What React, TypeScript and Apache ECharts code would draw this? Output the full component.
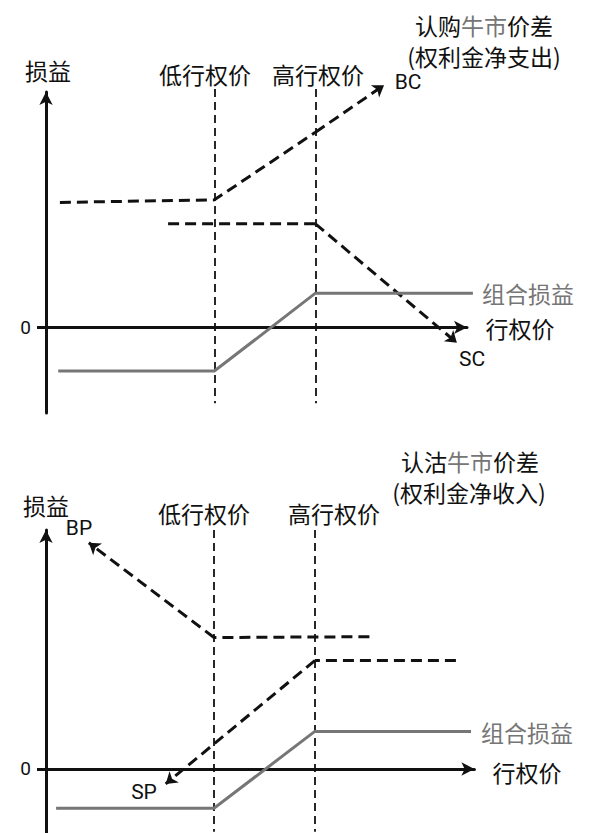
import React, { useEffect, useRef } from "react";
import * as echarts from "echarts";

// strikes (x units)
const strikes = [40, 64];

// --- Top panel: bull call spread ---
const topBC = [[3.3, 2.92], [40, 2.98], [64, 4.56], [80.3, 5.66]];
const topSC = [[29, 2.42], [64, 2.42], [97.6, -0.36]];
const topCombo = [[2.9, -1.02], [40, -1.02], [64, 0.8], [101.4, 0.8]];
const topVertRange = [5.57, -1.77];

// --- Bottom panel: bull put spread ---
const botBP = [[77, 3.1], [40, 3.08], [10.2, 5.3]];
const botSP = [[97.6, 2.54], [64, 2.54], [28.5, -0.35]];
const botCombo = [[2.4, -0.92], [40, -0.92], [64, 0.88], [101.2, 0.88]];
const botVertRange = [5.6, -1.47];

const yTicks = [0];

const CJK = '"Noto Sans CJK SC", "Noto Sans", sans-serif';
const LAT = 'Roboto, "Noto Sans", sans-serif';
const BLACK = "#111";
const GRAY = "#767676";

function txt(text: string, x: number, y: number, opts: any = {}) {
  const size = opts.size || 23;
  return {
    type: "text",
    x,
    y,
    style: {
      text,
      fill: opts.fill || BLACK,
      font: `${size}px ${opts.family || CJK}`,
      lineHeight: size,
      textAlign: "center",
      textVerticalAlign: "middle",
      rich: opts.rich,
    },
  };
}

export default function App() {
  const ref = useRef<HTMLDivElement>(null);
  useEffect(() => {
    document.body.style.margin = "0";
    const chart = echarts.init(ref.current!, null, { renderer: "svg" });

    const axisX = (gridIndex: number, max: number) => ({
      type: "value",
      gridIndex,
      min: 0,
      max,
      splitLine: { show: false },
      axisTick: { show: false },
      axisLabel: { show: false },
      axisLine: {
        onZero: true,
        symbol: ["none", "arrow"],
        symbolSize: [10, 13],
        lineStyle: { color: BLACK, width: 3 },
      },
    });
    const axisY = (gridIndex: number, min: number, max: number) => ({
      type: "value",
      gridIndex,
      min,
      max,
      splitLine: { show: false },
      axisTick: {
        show: true,
        customValues: yTicks,
        length: 9,
        lineStyle: { color: BLACK, width: 3 },
      },
      axisLabel: {
        show: true,
        customValues: yTicks,
        margin: 15,
        color: BLACK,
        fontSize: 19,
        fontFamily: LAT,
      },
      axisLine: {
        onZero: false,
        symbol: ["none", "arrow"],
        symbolSize: [10, 13],
        lineStyle: { color: BLACK, width: 3 },
      },
    });

    const dashStyle = { color: BLACK, width: 3, type: [11, 6], opacity: 1, curveness: 0 };
    // polyline body (no symbols are drawn on polylines) + final segment with arrow head
    const dashed = (data: number[][], g: number) => [
      {
        type: "lines",
        coordinateSystem: "cartesian2d",
        xAxisIndex: g,
        yAxisIndex: g,
        polyline: true,
        clip: false,
        silent: true,
        lineStyle: dashStyle,
        data: [{ coords: data.slice(0, data.length - 1) }],
      },
      {
        type: "lines",
        coordinateSystem: "cartesian2d",
        xAxisIndex: g,
        yAxisIndex: g,
        clip: false,
        silent: true,
        symbol: ["none", "arrow"],
        symbolSize: 11,
        lineStyle: dashStyle,
        data: [{ coords: data.slice(data.length - 2) }],
      },
    ];
    const combo = (data: number[][], g: number) => ({
      type: "lines",
      coordinateSystem: "cartesian2d",
      xAxisIndex: g,
      yAxisIndex: g,
      polyline: true,
      clip: false,
      silent: true,
      lineStyle: { color: GRAY, width: 3, type: "solid", opacity: 1 },
      data: [{ coords: data }],
    });
    const verticals = (range: number[], g: number) => ({
      type: "lines",
      coordinateSystem: "cartesian2d",
      xAxisIndex: g,
      yAxisIndex: g,
      clip: false,
      silent: true,
      symbol: ["none", "none"],
      lineStyle: { color: BLACK, width: 1.8, type: [8, 5], opacity: 1 },
      data: strikes.map((k) => ({ coords: [[k, range[0]], [k, range[1]]] })),
    });

    const titleRich = {
      a: { fill: BLACK, font: `23px ${CJK}`, lineHeight: 23 },
      b: { fill: GRAY, font: `23px ${CJK}`, lineHeight: 23 },
    };

    chart.setOption({
      animation: false,
      grid: [
        { left: 46, top: 92, width: 421, height: 321 },
        { left: 46, top: 530, width: 428.4, height: 303 },
      ],
      xAxis: [axisX(0, 100), axisX(1, 102)],
      yAxis: [axisY(0, -2, 5.5), axisY(1, -1.5, 5.6)],
      series: [
        verticals(topVertRange, 0),
        ...dashed(topBC, 0),
        ...dashed(topSC, 0),
        combo(topCombo, 0),
        verticals(botVertRange, 1),
        ...dashed(botBP, 1),
        ...dashed(botSP, 1),
        combo(botCombo, 1),
      ],
      graphic: [
        // top panel
        txt("{a|认购}{b|牛市}{a|价差}", 484, 25, { rich: titleRich }),
        txt("(权利金净支出)", 484, 56),
        txt("损益", 48, 70),
        txt("低行权价", 205, 74),
        txt("高行权价", 318, 74),
        txt("BC", 408, 82, { family: LAT, size: 21 }),
        txt("SC", 472, 359, { family: LAT, size: 21 }),
        txt("组合损益", 528, 293, { fill: GRAY }),
        txt("行权价", 520, 328),
        // bottom panel
        txt("{a|认沽}{b|牛市}{a|价差}", 470, 461, { rich: titleRich }),
        txt("(权利金净收入)", 469, 492),
        txt("损益", 46, 505),
        txt("低行权价", 204, 513),
        txt("高行权价", 334, 513),
        txt("BP", 79, 528, { family: LAT, size: 21 }),
        txt("SP", 144, 792, { family: LAT, size: 21 }),
        txt("组合损益", 527, 732, { fill: GRAY }),
        txt("行权价", 527, 772),
      ],
    });
    return () => chart.dispose();
  }, []);
  return <div ref={ref} style={{ width: 605, height: 833, background: "#fff" }} />;
}
